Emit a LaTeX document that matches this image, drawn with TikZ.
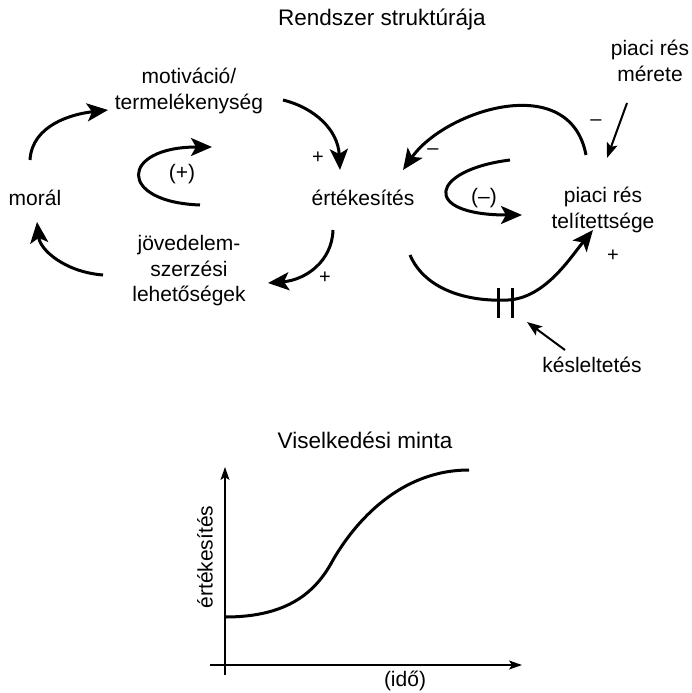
\documentclass[tikz,border=0pt]{standalone}
\usepackage{fontspec}
\setmainfont{Liberation Sans}
\usetikzlibrary{arrows.meta}
\begin{document}
\begin{tikzpicture}[x=1pt,y=-1pt,
  lbl/.style={font=\fontsize{21}{25.5}\selectfont, align=center, inner sep=0pt},
  ttl/.style={font=\fontsize{22.5}{27}\selectfont, inner sep=0pt},
  sgn/.style={font=\fontsize{20}{24}\selectfont, inner sep=0pt},
  bigarr/.style={line width=3pt, -{Stealth[length=21pt,width=18pt,inset=5pt]}},
  thinarr/.style={line width=2pt, -{Stealth[length=15pt,width=11pt,inset=3pt]}},
  axisarr/.style={line width=1.5pt, -{Stealth[length=13pt,width=9pt,inset=3pt]}},
  curve/.style={line width=3pt},
]
\useasboundingbox (0,0) rectangle (692,693);
% titles and labels
\node[ttl] (t1) at (382,20) {Rendszer struktúrája};
\node[lbl] (mot) at (189,91) {motiváció/\\termelékenység};
\node[lbl] (mor) at (35,198) {morál};
\node[lbl] (ert) at (363,198) {értékesítés};
\node[lbl] (jov) at (189,271) {jövedelem-\\szerzési\\lehetőségek};
\node[lbl] (tel) at (603,210) {piaci rés\\telítettsége};
\node[lbl] (mer) at (650,61) {piaci rés\\mérete};
\node[lbl] (kes) at (592,365) {késleltetés};
\node[lbl] (lp) at (182,174) {(+)};
\node[lbl] (lm) at (484,198) {(–)};
\node[sgn] (s1) at (318,158) {+};
\node[sgn] (s2) at (325,278) {+};
\node[sgn] (s3) at (596,123) {–};
\node[sgn] (s4) at (433,152) {–};
\node[sgn] (s5) at (613,256) {+};
% connector end points
\coordinate (a1) at (30,160);   \coordinate (b1) at (108,110);
\coordinate (a2) at (283,100);  \coordinate (b2) at (340,170);
\coordinate (a3) at (333,230);  \coordinate (b3) at (268,283);
\coordinate (a4) at (103,275);  \coordinate (b4) at (37,222);
\coordinate (a5) at (200,205);  \coordinate (b5) at (212,147);
\coordinate (a6) at (586,155);  \coordinate (b6) at (403,170);
\coordinate (a7) at (410,255);  \coordinate (m7) at (508,300);  \coordinate (b7) at (593,230);
\coordinate (a8) at (510,160);  \coordinate (b8) at (522,215);
\coordinate (a9) at (627,103);  \coordinate (b9) at (607,158);
\coordinate (a10) at (565,350); \coordinate (b10) at (527,322);
% reinforcing loop
\draw[bigarr] (a1) .. controls (32,125) and (72,114) .. (b1);
\draw[bigarr] (a2) .. controls (315,108) and (338,130) .. (b2);
\draw[bigarr] (a3) .. controls (332,262) and (305,280) .. (b3);
\draw[bigarr] (a4) .. controls (65,272) and (40,250) .. (b4);
\draw[bigarr] (a5) .. controls (117,202) and (120,147) .. (b5);
% balancing loop
\draw[bigarr] (a6) .. controls (570,70) and (445,110) .. (b6);
\draw[bigarr] (a7) .. controls (425,290) and (468,302) .. (m7)
  .. controls (545,298) and (570,258) .. (b7);
\draw[curve] (498,288) -- (498,318);
\draw[curve] (512,288) -- (512,318);
\draw[bigarr] (a8) .. controls (430,170) and (420,215) .. (b8);
\draw[thinarr] (a9) -- (b9);
\draw[thinarr] (a10) -- (b10);
% behaviour pattern
\node[ttl] (t2) at (365,440) {Viselkedési minta};
\node[lbl, rotate=90] (yl) at (205,557) {értékesítés};
\node[lbl] (ido) at (405,681) {(idő)};
\coordinate (yb) at (225,675); \coordinate (yt) at (225,467);
\coordinate (xl) at (210,665); \coordinate (xr) at (522,665);
\draw[axisarr] (yb) -- (yt);
\draw[axisarr] (xl) -- (xr);
\coordinate (c0) at (225,617); \coordinate (c1) at (333,560); \coordinate (c2) at (469,470);
\draw[curve] (c0) .. controls (288,617) and (316,592) .. (c1)
  .. controls (355,522) and (400,470) .. (c2);
\end{tikzpicture}
\end{document}
